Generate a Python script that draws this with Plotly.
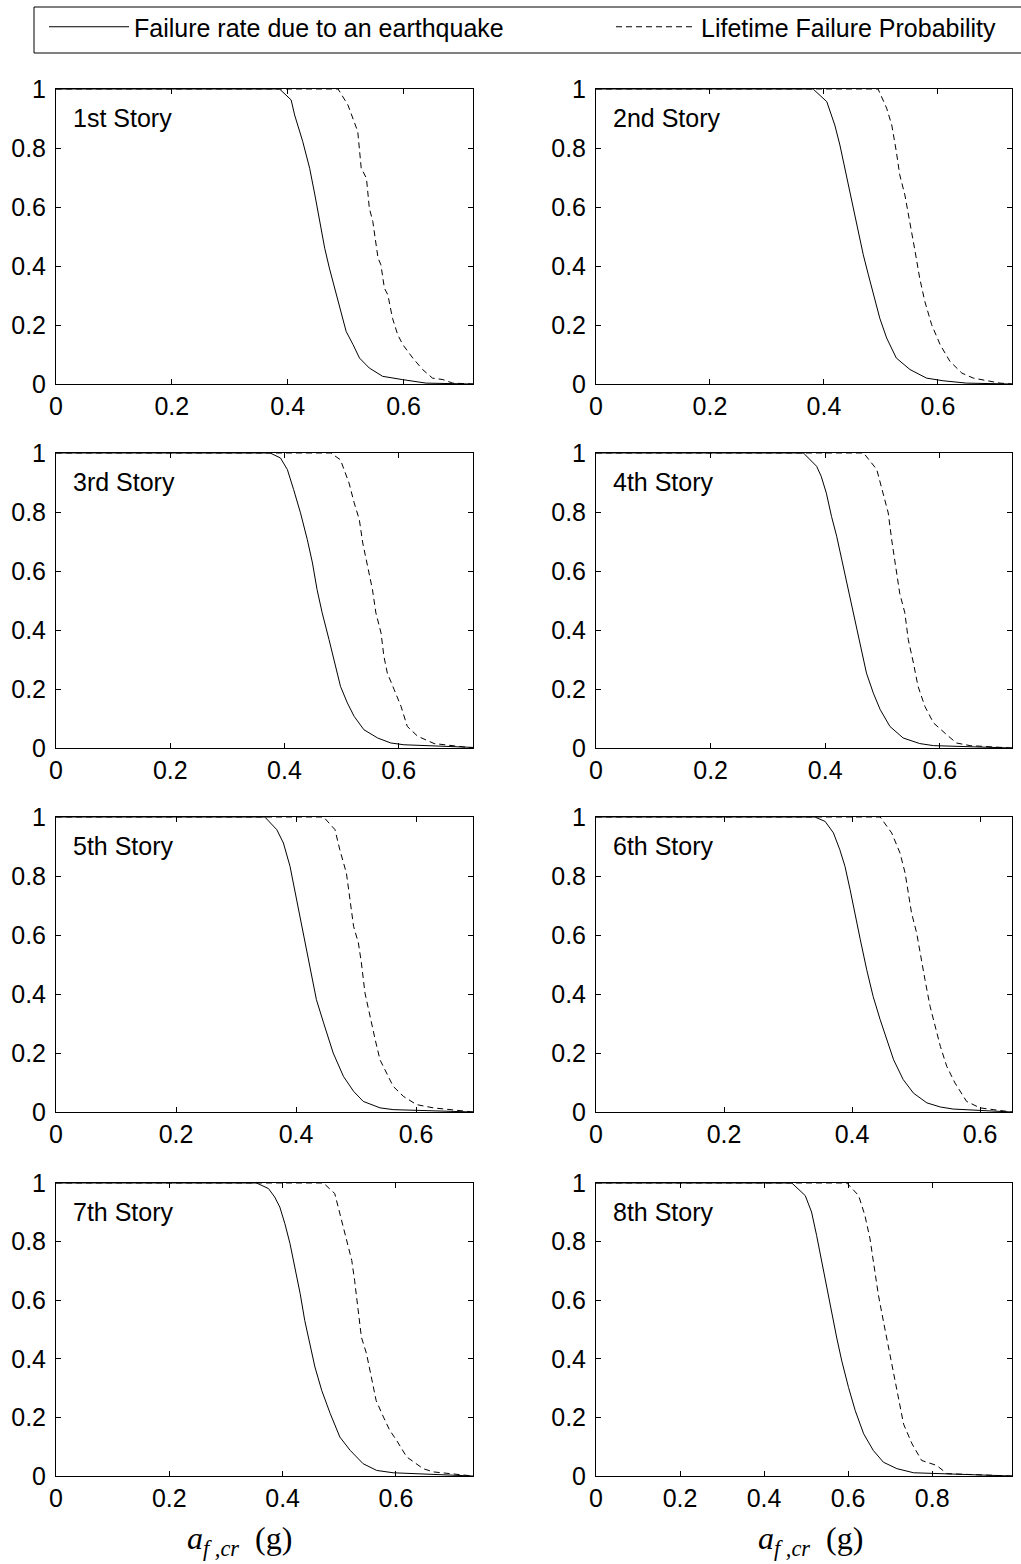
import plotly.graph_objects as go

# ---------------------------------------------------------------------------
# Failure curves for each story: P(failure) vs critical floor acceleration a_f,cr (g)
# "eq"  = failure rate due to an earthquake (solid)
# "lt"  = lifetime failure probability (dashed)
# ---------------------------------------------------------------------------
story_labels = ["1st Story", "2nd Story", "3rd Story", "4th Story",
                "5th Story", "6th Story", "7th Story", "8th Story"]
x_max = [0.72, 0.73, 0.73, 0.726, 0.695, 0.65, 0.736, 0.99]

eq_x_1 = [0, 0.386, 0.406, 0.412, 0.426, 0.438, 0.447, 0.455, 0.464, 0.472, 0.481, 0.490, 0.501, 0.513, 0.524, 0.541, 0.564, 0.598, 0.639, 0.72]
eq_y_1 = [1, 1, 0.963, 0.912, 0.822, 0.731, 0.641, 0.551, 0.46, 0.393, 0.325, 0.257, 0.178, 0.133, 0.088, 0.054, 0.026, 0.015, 0.003, 0]
lt_x_1 = [0, 0.487, 0.504, 0.521, 0.527, 0.536, 0.541, 0.547, 0.556, 0.561, 0.567, 0.573, 0.581, 0.590, 0.599, 0.616, 0.633, 0.650, 0.668, 0.685, 0.72]
lt_y_1 = [1, 1, 0.946, 0.856, 0.731, 0.698, 0.596, 0.551, 0.427, 0.404, 0.325, 0.302, 0.223, 0.167, 0.133, 0.088, 0.049, 0.02, 0.015, 0.003, 0]

eq_x_2 = [0, 0.381, 0.405, 0.419, 0.428, 0.434, 0.443, 0.451, 0.460, 0.469, 0.478, 0.487, 0.498, 0.510, 0.527, 0.551, 0.580, 0.609, 0.650, 0.73]
eq_y_2 = [1, 1, 0.957, 0.878, 0.81, 0.754, 0.675, 0.596, 0.517, 0.438, 0.37, 0.302, 0.223, 0.156, 0.088, 0.049, 0.02, 0.011, 0.003, 0]
lt_x_2 = [0, 0.495, 0.510, 0.519, 0.527, 0.533, 0.542, 0.551, 0.560, 0.568, 0.577, 0.589, 0.604, 0.621, 0.642, 0.662, 0.685, 0.709, 0.73]
lt_y_2 = [1, 1, 0.935, 0.878, 0.788, 0.709, 0.641, 0.551, 0.449, 0.359, 0.28, 0.201, 0.133, 0.077, 0.037, 0.02, 0.011, 0.003, 0]

eq_x_3 = [0, 0.375, 0.393, 0.405, 0.416, 0.428, 0.440, 0.449, 0.457, 0.466, 0.478, 0.487, 0.498, 0.510, 0.522, 0.539, 0.563, 0.586, 0.609, 0.73]
eq_y_3 = [1, 1, 0.983, 0.944, 0.876, 0.797, 0.706, 0.627, 0.537, 0.458, 0.367, 0.299, 0.209, 0.153, 0.107, 0.062, 0.034, 0.017, 0.011, 0.002]
lt_x_3 = [0, 0.481, 0.498, 0.513, 0.522, 0.531, 0.537, 0.545, 0.554, 0.560, 0.569, 0.574, 0.580, 0.592, 0.604, 0.615, 0.633, 0.662, 0.73]
lt_y_3 = [1, 1, 0.977, 0.898, 0.831, 0.774, 0.695, 0.616, 0.537, 0.458, 0.39, 0.311, 0.254, 0.198, 0.141, 0.073, 0.04, 0.015, 0]

eq_x_4 = [0, 0.362, 0.385, 0.393, 0.402, 0.411, 0.420, 0.429, 0.437, 0.446, 0.455, 0.464, 0.472, 0.484, 0.496, 0.513, 0.536, 0.565, 0.589, 0.726]
eq_y_4 = [1, 1, 0.955, 0.921, 0.864, 0.785, 0.718, 0.638, 0.559, 0.48, 0.401, 0.322, 0.254, 0.186, 0.13, 0.073, 0.034, 0.015, 0.008, 0]
lt_x_4 = [0, 0.467, 0.490, 0.501, 0.510, 0.516, 0.524, 0.530, 0.539, 0.545, 0.554, 0.562, 0.574, 0.589, 0.612, 0.629, 0.653, 0.726]
lt_y_4 = [1, 1, 0.944, 0.864, 0.797, 0.706, 0.593, 0.525, 0.458, 0.367, 0.288, 0.209, 0.141, 0.085, 0.045, 0.017, 0.008, 0]

eq_x_5 = [0, 0.348, 0.368, 0.379, 0.390, 0.401, 0.412, 0.423, 0.434, 0.446, 0.462, 0.479, 0.496, 0.512, 0.540, 0.562, 0.695]
eq_y_5 = [1, 1, 0.957, 0.912, 0.833, 0.72, 0.607, 0.505, 0.381, 0.302, 0.2, 0.121, 0.07, 0.036, 0.014, 0.008, 0]
lt_x_5 = [0, 0.446, 0.465, 0.473, 0.484, 0.490, 0.496, 0.504, 0.509, 0.515, 0.523, 0.532, 0.540, 0.551, 0.562, 0.579, 0.601, 0.629, 0.695]
lt_y_5 = [1, 1, 0.957, 0.889, 0.81, 0.72, 0.629, 0.573, 0.505, 0.403, 0.324, 0.245, 0.177, 0.132, 0.087, 0.053, 0.025, 0.014, 0]

eq_x_6 = [0, 0.342, 0.358, 0.371, 0.381, 0.389, 0.397, 0.405, 0.413, 0.423, 0.433, 0.444, 0.454, 0.465, 0.480, 0.496, 0.517, 0.538, 0.558, 0.65]
eq_y_6 = [1, 1, 0.985, 0.946, 0.889, 0.833, 0.754, 0.663, 0.584, 0.482, 0.392, 0.313, 0.245, 0.177, 0.11, 0.064, 0.031, 0.017, 0.01, 0]
lt_x_6 = [0, 0.444, 0.462, 0.475, 0.483, 0.488, 0.493, 0.501, 0.507, 0.514, 0.522, 0.530, 0.538, 0.548, 0.561, 0.579, 0.600, 0.621, 0.65]
lt_y_6 = [1, 1, 0.946, 0.878, 0.81, 0.742, 0.675, 0.607, 0.527, 0.449, 0.358, 0.29, 0.223, 0.155, 0.098, 0.036, 0.014, 0.008, 0]

eq_x_7 = [0, 0.354, 0.375, 0.386, 0.395, 0.404, 0.413, 0.422, 0.431, 0.439, 0.448, 0.457, 0.469, 0.484, 0.501, 0.519, 0.542, 0.566, 0.595, 0.736]
eq_y_7 = [1, 1, 0.981, 0.952, 0.918, 0.861, 0.793, 0.713, 0.622, 0.531, 0.452, 0.372, 0.292, 0.213, 0.133, 0.088, 0.042, 0.019, 0.011, 0]
lt_x_7 = [0, 0.472, 0.492, 0.504, 0.513, 0.522, 0.527, 0.534, 0.539, 0.548, 0.556, 0.565, 0.578, 0.589, 0.601, 0.619, 0.648, 0.666, 0.736]
lt_y_7 = [1, 1, 0.964, 0.873, 0.804, 0.736, 0.668, 0.565, 0.474, 0.418, 0.338, 0.258, 0.201, 0.156, 0.122, 0.065, 0.025, 0.014, 0]

eq_x_8 = [0, 0.466, 0.498, 0.513, 0.525, 0.537, 0.549, 0.561, 0.573, 0.585, 0.601, 0.617, 0.637, 0.660, 0.684, 0.716, 0.756, 0.99]
eq_y_8 = [1, 1, 0.957, 0.901, 0.821, 0.731, 0.652, 0.562, 0.471, 0.392, 0.302, 0.223, 0.144, 0.087, 0.047, 0.025, 0.011, 0]
lt_x_8 = [0, 0.597, 0.625, 0.640, 0.652, 0.660, 0.672, 0.684, 0.696, 0.708, 0.720, 0.732, 0.752, 0.775, 0.811, 0.835, 0.99]
lt_y_8 = [1, 1, 0.957, 0.889, 0.81, 0.731, 0.618, 0.528, 0.437, 0.347, 0.256, 0.177, 0.11, 0.053, 0.036, 0.008, 0]

eq_x = [eq_x_1, eq_x_2, eq_x_3, eq_x_4, eq_x_5, eq_x_6, eq_x_7, eq_x_8]
eq_y = [eq_y_1, eq_y_2, eq_y_3, eq_y_4, eq_y_5, eq_y_6, eq_y_7, eq_y_8]
lt_x = [lt_x_1, lt_x_2, lt_x_3, lt_x_4, lt_x_5, lt_x_6, lt_x_7, lt_x_8]
lt_y = [lt_y_1, lt_y_2, lt_y_3, lt_y_4, lt_y_5, lt_y_6, lt_y_7, lt_y_8]

series_names = ["Failure rate due to an earthquake", "Lifetime Failure Probability"]
y_ticks = [0, 0.2, 0.4, 0.6, 0.8, 1]

# ---------------------------------------------------------------------------
# Page geometry (pixels)
# ---------------------------------------------------------------------------
W, H = 1021, 1564
col_left = [56, 596]
col_right = [473, 1012]
row_top = [89, 453, 817, 1183]
row_bottom = [384, 748, 1112, 1476]

FONT = "Arial, Liberation Sans, sans-serif"
SERIF = "Times New Roman, Liberation Serif, serif"


def px(x):
    return x / W


def py(y):
    return 1 - y / H


fig = go.Figure()
layout_axes = {}
annotations = []

for i in range(8):
    r, c = divmod(i, 2)
    n = i + 1
    xa = "x" if n == 1 else f"x{n}"
    ya = "y" if n == 1 else f"y{n}"

    fig.add_trace(go.Scatter(
        x=eq_x[i], y=eq_y[i], xaxis=xa, yaxis=ya, mode="lines",
        line=dict(color="black", width=1),
        name=series_names[0], legendgroup="eq", showlegend=(i == 0),
        legendwidth=472,
    ))
    fig.add_trace(go.Scatter(
        x=lt_x[i], y=lt_y[i], xaxis=xa, yaxis=ya, mode="lines",
        line=dict(color="black", width=1, dash="6px,4px"),
        name=series_names[1], legendgroup="lt", showlegend=(i == 0),
    ))

    axis_common = dict(
        showline=True, linecolor="black", linewidth=1, mirror="ticks",
        ticks="inside", ticklen=5, tickwidth=1, tickcolor="black",
        showgrid=False, zeroline=False,
        tickfont=dict(family=FONT, size=25, color="black"),
    )
    layout_axes["xaxis" if n == 1 else f"xaxis{n}"] = dict(
        axis_common,
        domain=[px(col_left[c]), px(col_right[c])],
        anchor=ya, range=[0, x_max[i]], tick0=0, dtick=0.2,
        ticklabelstandoff=0,
    )
    layout_axes["yaxis" if n == 1 else f"yaxis{n}"] = dict(
        axis_common,
        domain=[py(row_bottom[r]), py(row_top[r])],
        anchor=xa, range=[0, 1], tickvals=y_ticks,
        ticklabelstandoff=4,
    )

    annotations.append(dict(
        text=story_labels[i], xref="paper", yref="paper",
        x=px(col_left[c] + 15), y=py(row_top[r] + 29),
        xanchor="left", yanchor="middle", showarrow=False,
        font=dict(family=FONT, size=25, color="black"),
    ))

# x-axis titles under each column
x_title = "<i>a</i><sub><i>f ,cr</i></sub>  (g)"
for cx in (239, 810):
    annotations.append(dict(
        text=x_title, xref="paper", yref="paper",
        x=px(cx), y=py(1540), xanchor="center", yanchor="middle",
        showarrow=False, font=dict(family=SERIF, size=32, color="black"),
    ))

fig.update_layout(
    width=W, height=H,
    margin=dict(l=0, r=0, t=0, b=0, autoexpand=False),
    paper_bgcolor="white", plot_bgcolor="white",
    showlegend=True,
    legend=dict(
        orientation="h", x=px(44), y=py(4), xanchor="left", yanchor="top",
        bgcolor="rgba(0,0,0,0)", borderwidth=0,
        font=dict(family=FONT, size=25, color="black"),
        itemwidth=80,
        itemclick=False, itemdoubleclick=False,
    ),
    shapes=[dict(
        type="rect", xref="paper", yref="paper",
        x0=px(34), x1=px(1030), y0=py(7), y1=py(53),
        line=dict(color="black", width=1), fillcolor="rgba(0,0,0,0)",
    )],
    annotations=annotations,
    **layout_axes,
)

fig.write_html("out.html")
